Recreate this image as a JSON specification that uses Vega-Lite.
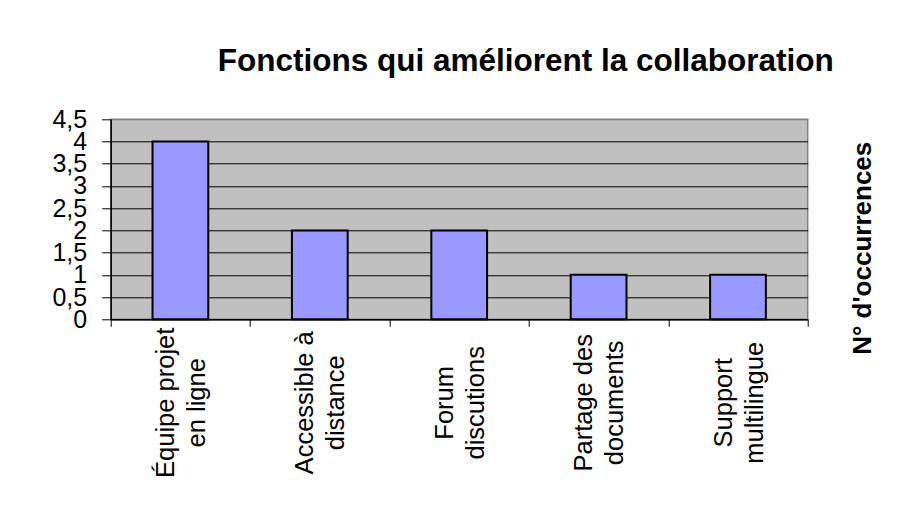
{
  "$schema": "https://vega.github.io/schema/vega-lite/v6.json",
  "width": 697,
  "height": 200,
  "autosize": {"type": "none"},
  "padding": {"left": 110.7, "top": 119.3, "right": 97.3, "bottom": 199.7},
  "background": "white",
  "title": {
    "text": "Fonctions qui améliorent la collaboration",
    "font": "Liberation Sans",
    "fontSize": 31.5,
    "fontWeight": "bold",
    "color": "black",
    "anchor": "start",
    "frame": "group",
    "dx": 107,
    "offset": 30
  },
  "data": {
    "values": [
      {"fonction": "Équipe projet\nen ligne", "occurrences": 4},
      {"fonction": "Accessible à\ndistance", "occurrences": 2},
      {"fonction": "Forum\ndiscutions", "occurrences": 2},
      {"fonction": "Partage des\ndocuments", "occurrences": 1},
      {"fonction": "Support\nmultilingue", "occurrences": 1}
    ]
  },
  "mark": {
    "type": "bar",
    "width": {"band": 0.4},
    "fill": "#9999FF",
    "stroke": "black",
    "strokeWidth": 2
  },
  "encoding": {
    "x": {
      "field": "fonction",
      "type": "nominal",
      "sort": null,
      "scale": {"paddingInner": 0, "paddingOuter": 0},
      "axis": {
        "title": null,
        "grid": false,
        "labelAngle": -90,
        "labelAlign": "center",
        "labelBaseline": "middle",
        "labelFont": "Liberation Sans",
        "labelFontSize": 25.5,
        "labelLineHeight": 31,
        "labelColor": "black",
        "labelLimit": 400,
        "labelOverlap": false,
        "labelPadding": 76,
        "labelOffset": -15,
        "labelExpr": "split(datum.label, '\\n')",
        "tickBand": "extent",
        "tickSize": 7,
        "tickColor": "black",
        "domainColor": "black",
        "domainWidth": 1.5,
        "encode": {
          "labels": {
            "update": {
              "dx": {"signal": "indexof(datum.value, 'Forum') === 0 ? 10 : indexof(datum.value, 'Support') === 0 ? 5 : indexof(datum.value, 'Partage') === 0 ? -2 : -6"}
            }
          }
        }
      }
    },
    "y": {
      "field": "occurrences",
      "type": "quantitative",
      "scale": {"domain": [0, 4.5], "nice": false},
      "axis": {
        "values": [0, 0.5, 1, 1.5, 2, 2.5, 3, 3.5, 4, 4.5],
        "format": ".1~f",
        "labelExpr": "replace(datum.label, '.', ',')",
        "labelFont": "Liberation Sans",
        "labelFontSize": 25,
        "labelColor": "black",
        "labelOverlap": false,
        "labelFlush": false,
        "labelPadding": 15,
        "tickSize": 9,
        "tickColor": "black",
        "domainColor": "black",
        "domainWidth": 1.5,
        "grid": true,
        "gridColor": {"condition": {"test": "datum.value >= 4.5", "value": "#808080"}, "value": "black"},
        "gridWidth": 1,
        "gridOpacity": 1,
        "title": "N° d'occurrences",
        "titleFont": "Liberation Sans",
        "titleFontSize": 26,
        "titleFontWeight": "bold",
        "titleColor": "black",
        "titleAngle": 270,
        "titleAlign": "center",
        "titleBaseline": "bottom",
        "titleX": 765,
        "titleY": 128.5
      }
    }
  },
  "config": {
    "font": "Liberation Sans",
    "view": {"fill": "#C0C0C0", "stroke": "#808080", "strokeWidth": 1.5}
  }
}
